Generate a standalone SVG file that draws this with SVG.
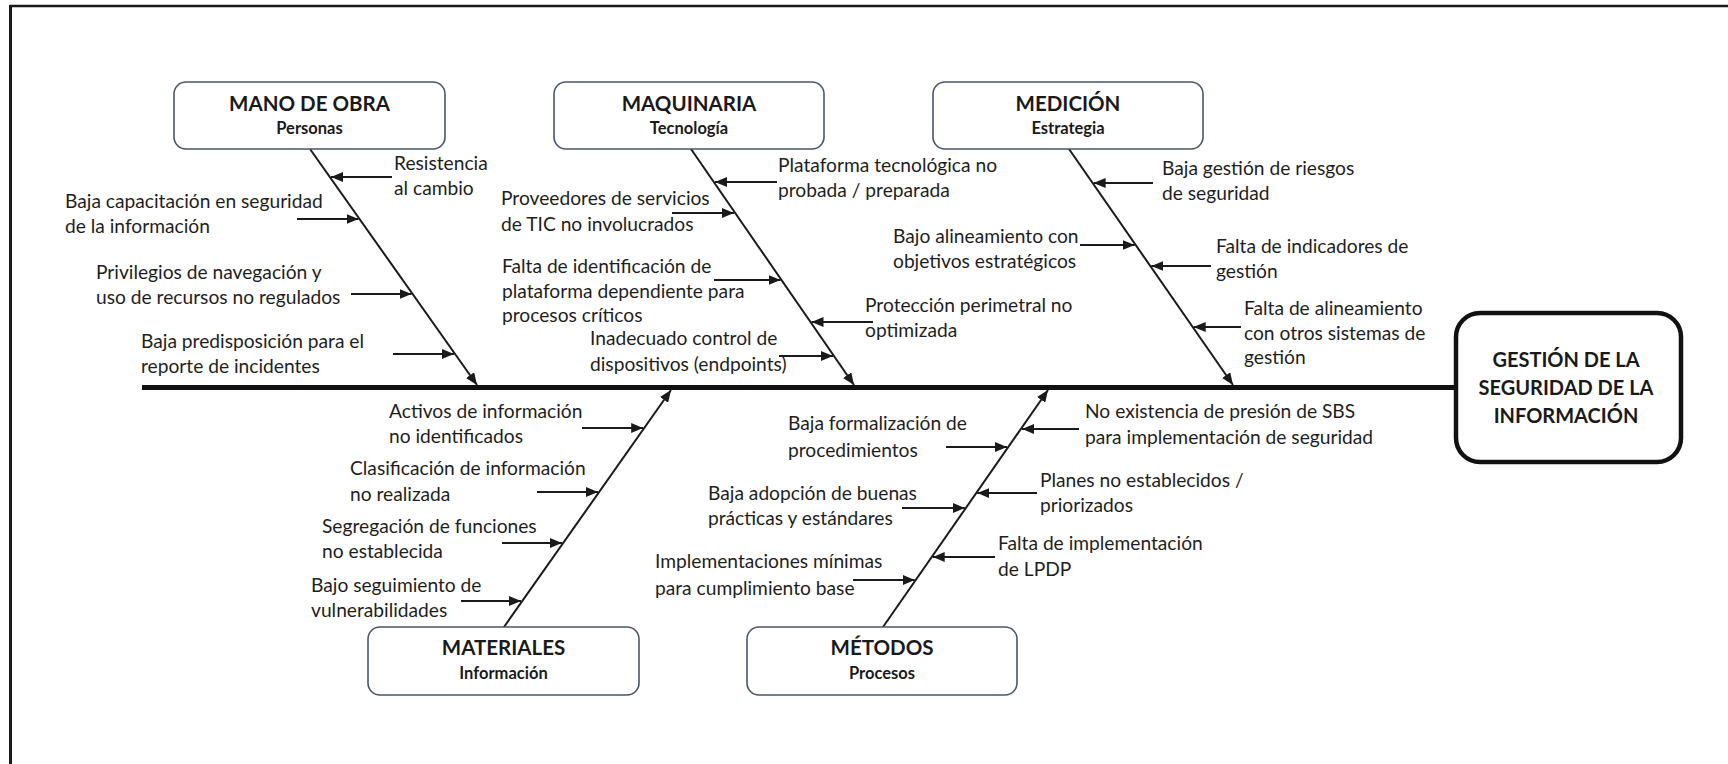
<svg xmlns="http://www.w3.org/2000/svg" width="1728" height="764" viewBox="0 0 1728 764">
  <defs>
    <style>
      .cause { font-family: Lato, "Open Sans", "Liberation Sans", sans-serif; font-size: 19.2px; fill: #1e1e1e; }
      .cat-title { font-family: Lato, "Open Sans", "Liberation Sans", sans-serif; font-size: 20.5px; font-weight: bold; fill: #1a1a1a; text-anchor: middle; }
      .cat-sub { font-family: Lato, "Open Sans", "Liberation Sans", sans-serif; font-size: 16.5px; font-weight: bold; fill: #1a1a1a; text-anchor: middle; }
      .effect-text { font-family: Lato, "Open Sans", "Liberation Sans", sans-serif; font-size: 20px; font-weight: bold; fill: #1a1a1a; text-anchor: middle; }
      .cat-box { fill: #ffffff; stroke: #4a5568; stroke-width: 1.6; }
      .cause-arrow { stroke: #1a1a1a; stroke-width: 2; fill: none; marker-end: url(#head); }
      .bone-arrow { stroke: #1a1a1a; stroke-width: 2; fill: none; marker-end: url(#head); }
    </style>
    <marker id="head" viewBox="0 0 12 10" refX="12" refY="5" markerWidth="12" markerHeight="10" markerUnits="userSpaceOnUse" orient="auto">
      <path d="M0,0 L12,5 L0,10 z" fill="#1a1a1a"/>
    </marker>
  </defs>

  <!-- page frame (top and left rules) -->
  <g id="frame">
    <line x1="10" y1="6" x2="1728" y2="6" stroke="#1a1a1a" stroke-width="2.5"/>
    <line x1="10.5" y1="5" x2="10.5" y2="764" stroke="#1a1a1a" stroke-width="3"/>
  </g>

  <!-- spine, category bones and cause arrows -->
  <g id="connectors">
    <line id="spine" x1="142" y1="387.5" x2="1456" y2="387.5" stroke="#111" stroke-width="5"/>

    <line class="bone-arrow" x1="310" y1="149" x2="477" y2="385"/>
    <line class="bone-arrow" x1="691" y1="149" x2="854" y2="385"/>
    <line class="bone-arrow" x1="1069" y1="149" x2="1233" y2="385"/>
    <line class="bone-arrow" x1="504" y1="627" x2="671" y2="390"/>
    <line class="bone-arrow" x1="883" y1="627" x2="1048" y2="390"/>

    <!-- MANO DE OBRA causes -->
    <line class="cause-arrow" x1="392" y1="177" x2="331" y2="177"/>
    <line class="cause-arrow" x1="297" y1="219" x2="358.5" y2="219"/>
    <line class="cause-arrow" x1="351" y1="294" x2="411.5" y2="294"/>
    <line class="cause-arrow" x1="393" y1="354" x2="454" y2="354"/>

    <!-- MAQUINARIA causes -->
    <line class="cause-arrow" x1="777" y1="182" x2="715" y2="182"/>
    <line class="cause-arrow" x1="672" y1="213" x2="734" y2="213"/>
    <line class="cause-arrow" x1="714" y1="280" x2="780.5" y2="280"/>
    <line class="cause-arrow" x1="873" y1="322" x2="811.5" y2="322"/>
    <line class="cause-arrow" x1="779" y1="356" x2="833" y2="356"/>

    <!-- MEDICIÓN causes -->
    <line class="cause-arrow" x1="1153" y1="183" x2="1093.6" y2="183"/>
    <line class="cause-arrow" x1="1080" y1="245" x2="1134.7" y2="245"/>
    <line class="cause-arrow" x1="1211" y1="266" x2="1151.3" y2="266"/>
    <line class="cause-arrow" x1="1241" y1="327" x2="1193.7" y2="327"/>

    <!-- MATERIALES causes -->
    <line class="cause-arrow" x1="582" y1="428" x2="643.2" y2="428"/>
    <line class="cause-arrow" x1="537" y1="492" x2="598" y2="492"/>
    <line class="cause-arrow" x1="502" y1="543" x2="562" y2="543"/>
    <line class="cause-arrow" x1="461" y1="601" x2="521" y2="601"/>

    <!-- MÉTODOS causes -->
    <line class="cause-arrow" x1="1079" y1="429" x2="1022" y2="429"/>
    <line class="cause-arrow" x1="946" y1="447" x2="1007" y2="447"/>
    <line class="cause-arrow" x1="1037" y1="493" x2="977.3" y2="493"/>
    <line class="cause-arrow" x1="902" y1="508" x2="964.8" y2="508"/>
    <line class="cause-arrow" x1="995" y1="557" x2="932.7" y2="557"/>
    <line class="cause-arrow" x1="853" y1="580" x2="914.7" y2="580"/>
  </g>

  <!-- effect -->
  <g id="effect">
    <rect x="1456" y="313" width="225" height="149" rx="24" ry="24" fill="#ffffff" stroke="#111" stroke-width="4.5"/>
    <text class="effect-text" x="1566" y="367">GESTIÓN DE LA</text>
    <text class="effect-text" x="1566" y="395">SEGURIDAD DE LA</text>
    <text class="effect-text" x="1566" y="423">INFORMACIÓN</text>
  </g>

  <!-- categories -->
  <g id="mano-de-obra">
    <rect class="cat-box" x="174" y="82" width="271" height="67" rx="12" ry="12"/>
    <text class="cat-title" x="309.5" y="111">MANO DE OBRA</text>
    <text class="cat-sub" x="309.5" y="134">Personas</text>
  </g>
  <g id="maquinaria">
    <rect class="cat-box" x="554" y="82" width="270" height="67" rx="12" ry="12"/>
    <text class="cat-title" x="689" y="111">MAQUINARIA</text>
    <text class="cat-sub" x="689" y="134">Tecnología</text>
  </g>
  <g id="medicion">
    <rect class="cat-box" x="933" y="82" width="270" height="67" rx="12" ry="12"/>
    <text class="cat-title" x="1068" y="111">MEDICIÓN</text>
    <text class="cat-sub" x="1068" y="134">Estrategia</text>
  </g>
  <g id="materiales">
    <rect class="cat-box" x="368" y="627" width="271" height="68" rx="12" ry="12"/>
    <text class="cat-title" x="503.5" y="655">MATERIALES</text>
    <text class="cat-sub" x="503.5" y="679">Información</text>
  </g>
  <g id="metodos">
    <rect class="cat-box" x="747" y="627" width="270" height="68" rx="12" ry="12"/>
    <text class="cat-title" x="882" y="655">MÉTODOS</text>
    <text class="cat-sub" x="882" y="679">Procesos</text>
  </g>

  <!-- cause labels -->
  <g id="causes-mano-de-obra">
    <text class="cause" x="394" y="170">Resistencia</text>
    <text class="cause" x="394" y="195">al cambio</text>
    <text class="cause" x="65" y="208">Baja capacitación en seguridad</text>
    <text class="cause" x="65" y="233">de la información</text>
    <text class="cause" x="96" y="279">Privilegios de navegación y</text>
    <text class="cause" x="96" y="304">uso de recursos no regulados</text>
    <text class="cause" x="141" y="348">Baja predisposición para el</text>
    <text class="cause" x="141" y="373">reporte de incidentes</text>
  </g>
  <g id="causes-maquinaria">
    <text class="cause" x="778" y="172">Plataforma tecnológica no</text>
    <text class="cause" x="778" y="197">probada / preparada</text>
    <text class="cause" x="501" y="205">Proveedores de servicios</text>
    <text class="cause" x="501" y="231">de TIC no involucrados</text>
    <text class="cause" x="502" y="273">Falta de identificación de</text>
    <text class="cause" x="502" y="298">plataforma dependiente para</text>
    <text class="cause" x="502" y="322">procesos críticos</text>
    <text class="cause" x="865" y="312">Protección perimetral no</text>
    <text class="cause" x="865" y="337">optimizada</text>
    <text class="cause" x="590" y="345">Inadecuado control de</text>
    <text class="cause" x="590" y="371">dispositivos (endpoints)</text>
  </g>
  <g id="causes-medicion">
    <text class="cause" x="1162" y="175">Baja gestión de riesgos</text>
    <text class="cause" x="1162" y="200">de seguridad</text>
    <text class="cause" x="893" y="243">Bajo alineamiento con</text>
    <text class="cause" x="893" y="268">objetivos estratégicos</text>
    <text class="cause" x="1216" y="253">Falta de indicadores de</text>
    <text class="cause" x="1216" y="278">gestión</text>
    <text class="cause" x="1244" y="315">Falta de alineamiento</text>
    <text class="cause" x="1244" y="340">con otros sistemas de</text>
    <text class="cause" x="1244" y="364">gestión</text>
  </g>
  <g id="causes-materiales">
    <text class="cause" x="389" y="418">Activos de información</text>
    <text class="cause" x="389" y="443">no identificados</text>
    <text class="cause" x="350" y="475">Clasificación de información</text>
    <text class="cause" x="350" y="501">no realizada</text>
    <text class="cause" x="322" y="533">Segregación de funciones</text>
    <text class="cause" x="322" y="558">no establecida</text>
    <text class="cause" x="311" y="592">Bajo seguimiento de</text>
    <text class="cause" x="311" y="617">vulnerabilidades</text>
  </g>
  <g id="causes-metodos">
    <text class="cause" x="1085" y="418">No existencia de presión de SBS</text>
    <text class="cause" x="1085" y="444">para implementación de seguridad</text>
    <text class="cause" x="788" y="430">Baja formalización de</text>
    <text class="cause" x="788" y="457">procedimientos</text>
    <text class="cause" x="1040" y="487">Planes no establecidos /</text>
    <text class="cause" x="1040" y="512">priorizados</text>
    <text class="cause" x="708" y="500">Baja adopción de buenas</text>
    <text class="cause" x="708" y="525">prácticas y estándares</text>
    <text class="cause" x="998" y="550">Falta de implementación</text>
    <text class="cause" x="998" y="576">de LPDP</text>
    <text class="cause" x="655" y="568">Implementaciones mínimas</text>
    <text class="cause" x="655" y="595">para cumplimiento base</text>
  </g>
</svg>
